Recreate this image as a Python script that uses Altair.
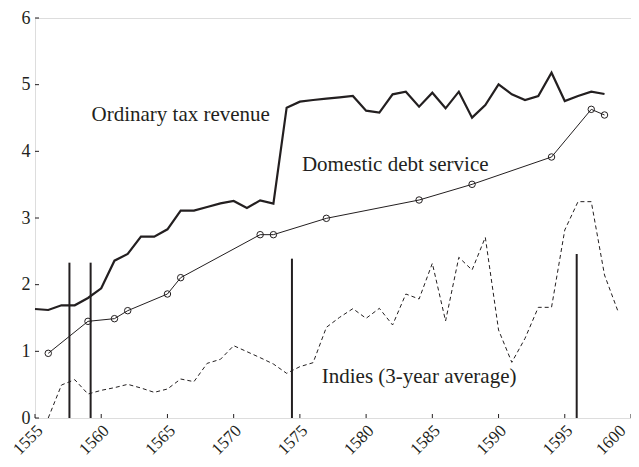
import altair as alt
import pandas as pd

# Ordinary tax revenue (annual, 1555-1598)
tax_years = list(range(1555, 1599))
tax_values = [1.635, 1.62, 1.69, 1.69, 1.80, 1.945, 2.36, 2.46, 2.72, 2.72,
              2.83, 3.11, 3.11, 3.165, 3.22, 3.255, 3.15, 3.265, 3.215, 4.655,
              4.745, 4.77, 4.79, 4.81, 4.83, 4.61, 4.58, 4.855, 4.895, 4.67,
              4.88, 4.645, 4.895, 4.505, 4.695, 5.005, 4.855, 4.77, 4.83, 5.18,
              4.755, 4.83, 4.895, 4.86]

# Domestic debt service (observed years)
debt_years = [1556, 1559, 1561, 1562, 1565, 1566, 1572, 1573, 1577, 1584, 1588, 1594, 1597, 1598]
debt_values = [0.97, 1.45, 1.49, 1.61, 1.86, 2.105, 2.75, 2.75, 2.995, 3.27, 3.505, 3.915, 4.63, 4.545]

# Indies (3-year average), 1556-1599
indies_years = list(range(1556, 1600))
indies_values = [0.0, 0.495, 0.575, 0.36, 0.415, 0.455, 0.505, 0.45, 0.385, 0.435,
                 0.585, 0.545, 0.82, 0.88, 1.085, 0.995, 0.905, 0.81, 0.67, 0.77,
                 0.83, 1.36, 1.51, 1.64, 1.495, 1.645, 1.395, 1.86, 1.785, 2.32,
                 1.455, 2.41, 2.22, 2.71, 1.32, 0.835, 1.195, 1.66, 1.66, 2.82,
                 3.245, 3.245, 2.145, 1.61]

# Bankruptcy markers (vertical bars)
bankrupt_years = [1557.6, 1559.2, 1574.4, 1595.9]
bankrupt_tops = [2.33, 2.33, 2.39, 2.46]

x_ticks = [1555, 1560, 1565, 1570, 1575, 1580, 1585, 1590, 1595, 1600]
y_ticks = [0, 1, 2, 3, 4, 5, 6]

# Series labels: text and anchor (year, value)
label_texts = ["Ordinary tax revenue", "Domestic debt service", "Indies (3-year average)"]
label_years = [1566.0, 1582.2, 1584.0]
label_vals = [4.45, 3.71, 0.52]

INK = "#231f20"
FONT = "Liberation Serif"

tax_df = pd.DataFrame({"year": tax_years, "value": tax_values})
debt_df = pd.DataFrame({"year": debt_years, "value": debt_values})
ind_df = pd.DataFrame({"year": indies_years, "value": indies_values})
bk_df = pd.DataFrame({"year": bankrupt_years, "value": [0] * len(bankrupt_years), "value2": bankrupt_tops})
xt_df = pd.DataFrame({"year": x_ticks})
yt_df = pd.DataFrame({"value": y_ticks})
lab_df = pd.DataFrame({"year": label_years, "value": label_vals, "text": label_texts})

x_enc = alt.X("year:Q", scale=alt.Scale(domain=[1555, 1600], nice=False, zero=False),
              axis=alt.Axis(title=None, values=x_ticks, format="d", labelAngle=315,
                            labelAlign="right", labelBaseline="top", labelPadding=4,
                            labelOffset={"condition": {"test": "datum.value == 1600", "value": -14},
                                         "value": -1},
                            tickSize=0, domain=False, grid=False, labelFont=FONT,
                            labelFontSize=17, labelColor=INK, labelBound=False))
y_enc = alt.Y("value:Q", scale=alt.Scale(domain=[0, 6], nice=False),
              axis=alt.Axis(title=None, values=y_ticks, tickSize=0, domain=False, grid=False,
                            labelPadding=5, labelFont=FONT, labelFontSize=18, labelColor=INK))

tax = alt.Chart(tax_df).mark_line(color=INK, strokeWidth=2.2).encode(x=x_enc, y=y_enc)
debt_line = alt.Chart(debt_df).mark_line(color=INK, strokeWidth=1).encode(x=x_enc, y=y_enc)
debt_pts = alt.Chart(debt_df).mark_point(shape="circle", size=42, filled=False, color=INK,
                                         strokeWidth=1, opacity=1).encode(x=x_enc, y=y_enc)
indies = alt.Chart(ind_df).mark_line(color=INK, strokeWidth=1, strokeDash=[4, 3]).encode(x=x_enc, y=y_enc)
bk = alt.Chart(bk_df).mark_rule(color=INK, strokeWidth=2).encode(x=x_enc, y=y_enc, y2="value2:Q")
xt = alt.Chart(xt_df).mark_rule(color=INK, strokeWidth=1).encode(
    x=x_enc, y=alt.value(400), y2=alt.value(396))
yt = alt.Chart(yt_df).mark_rule(color=INK, strokeWidth=1).encode(
    y=y_enc, x=alt.value(0), x2=alt.value(4))
labels = alt.Chart(lab_df).mark_text(font=FONT, fontSize=21, color=INK, align="center",
                                     baseline="alphabetic").encode(x=x_enc, y=y_enc, text="text:N")

chart = alt.layer(indies, debt_line, debt_pts, tax, bk, xt, yt, labels).properties(
    width=596, height=400,
    autosize=alt.AutoSizeParams(type="none"),
    padding={"left": 27, "top": 10, "right": 0, "bottom": 41},
).configure_view(stroke=INK, strokeWidth=1.5).configure(background="white")

chart.save("out.html", embed_options={"renderer": "svg", "actions": False})
